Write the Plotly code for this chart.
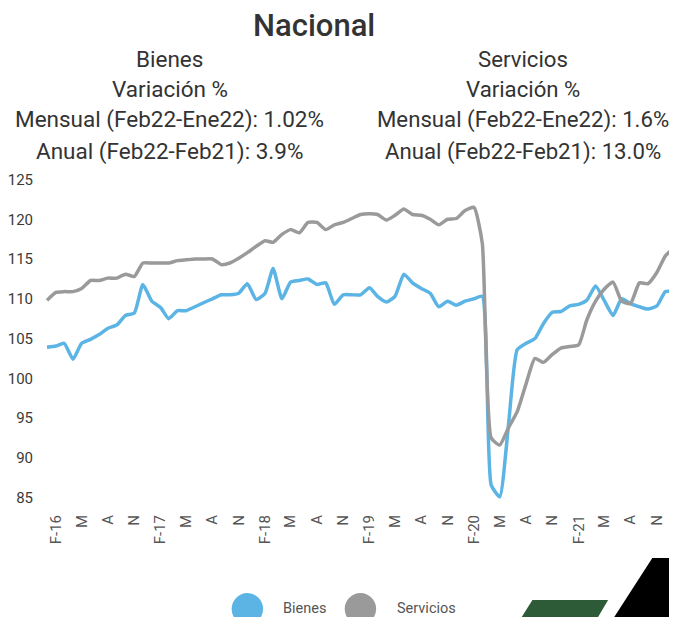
import plotly.graph_objects as go

# ---------------- data ----------------
months = ["2016-01", "2016-02", "2016-03", "2016-04", "2016-05", "2016-06", "2016-07", "2016-08",
          "2016-09", "2016-10", "2016-11", "2016-12",
          "2017-01", "2017-02", "2017-03", "2017-04", "2017-05", "2017-06", "2017-07", "2017-08",
          "2017-09", "2017-10", "2017-11", "2017-12",
          "2018-01", "2018-02", "2018-03", "2018-04", "2018-05", "2018-06", "2018-07", "2018-08",
          "2018-09", "2018-10", "2018-11", "2018-12",
          "2019-01", "2019-02", "2019-03", "2019-04", "2019-05", "2019-06", "2019-07", "2019-08",
          "2019-09", "2019-10", "2019-11", "2019-12",
          "2020-01", "2020-02", "2020-03", "2020-04", "2020-05", "2020-06", "2020-07", "2020-08",
          "2020-09", "2020-10", "2020-11", "2020-12",
          "2021-01", "2021-02", "2021-03", "2021-04", "2021-05", "2021-06", "2021-07", "2021-08",
          "2021-09", "2021-10", "2021-11", "2021-12",
          "2022-01"]

bienes = [103.9, 104.05, 104.4, 102.4, 104.4, 104.9, 105.5, 106.3, 106.7, 107.9, 108.2, 111.8,
          109.7, 108.9, 107.5, 108.5, 108.5, 109.0, 109.5, 110.0, 110.5, 110.5, 110.7, 111.9,
          109.9, 110.7, 113.8, 110.0, 112.1, 112.3, 112.5, 111.8, 112.0, 109.3, 110.5, 110.5,
          110.5, 111.4, 110.3, 109.6, 110.3, 113.1, 112.0, 111.3, 110.7, 109.0, 109.7, 109.2,
          109.7, 110.0, 110.3, 86.6, 85.1, 94.3, 103.6, 104.4, 105.0, 106.9, 108.3, 108.4,
          109.1, 109.3, 109.8, 111.6, 109.8, 107.9, 110.0, 109.4, 109.0, 108.7, 109.1, 110.9,
          110.9]

servicios = [109.8, 110.8, 110.9, 110.9, 111.3, 112.3, 112.3, 112.6, 112.6, 113.1, 112.8, 114.5,
             114.5, 114.5, 114.5, 114.8, 114.9, 115.0, 115.0, 115.0, 114.3, 114.5, 115.1, 115.8,
             116.6, 117.3, 117.1, 118.1, 118.7, 118.3, 119.6, 119.6, 118.7, 119.3, 119.6, 120.1,
             120.6, 120.7, 120.6, 119.9, 120.5, 121.3, 120.6, 120.5, 120.0, 119.3, 120.0, 120.1,
             121.1, 121.5, 117.0, 92.5, 91.6, 93.8, 95.8, 99.3, 102.5, 102.0, 103.0, 103.8,
             104.0, 104.2, 107.3, 109.7, 111.2, 112.1, 109.7, 109.4, 112.0, 111.9, 113.3, 115.4,
             116.4]

tick_months = ["2016-02", "2016-05", "2016-08", "2016-11",
               "2017-02", "2017-05", "2017-08", "2017-11",
               "2018-02", "2018-05", "2018-08", "2018-11",
               "2019-02", "2019-05", "2019-08", "2019-11",
               "2020-02", "2020-05", "2020-08", "2020-11",
               "2021-02", "2021-05", "2021-08", "2021-11"]
tick_labels = ["F-16", "M", "A", "N", "F-17", "M", "A", "N", "F-18", "M", "A", "N",
               "F-19", "M", "A", "N", "F-20", "M", "A", "N", "F-21", "M", "A", "N"]

y_ticks = [85, 90, 95, 100, 105, 110, 115, 120, 125]

title_text = "Nacional"
bienes_lines = ["Bienes", "Variación %", "Mensual (Feb22-Ene22): 1.02%", "Anual (Feb22-Feb21): 3.9%"]
servicios_lines = ["Servicios", "Variación %", "Mensual (Feb22-Ene22): 1.6%", "Anual (Feb22-Feb21): 13.0%"]

# ---------------- layout geometry ----------------
# the figure does not start at the window's corner; compensate with offsets
OFF_X, OFF_Y = 13, 8
FIG_W, FIG_H = 677 - OFF_X, 617 - OFF_Y
PLOT_LEFT, PLOT_RIGHT, PLOT_TOP, PLOT_BOTTOM = 33, 677, 175, 505   # screen pixels
L = PLOT_LEFT - OFF_X
T = PLOT_TOP - OFF_Y
R = FIG_W - (PLOT_RIGHT - OFF_X)
B = FIG_H - (PLOT_BOTTOM - OFF_Y)
W = PLOT_RIGHT - PLOT_LEFT
H = PLOT_BOTTOM - PLOT_TOP


def px_x(x):
    return (x - PLOT_LEFT) / W


def px_y(y):
    return (PLOT_BOTTOM - y) / H


BLUE = "#5bb4e4"
GRAY = "#9a9a9a"
FONT = "Roboto"

fig = go.Figure()
fig.add_trace(go.Scatter(x=[m + "-01" for m in months], y=bienes, mode="lines", name="Bienes",
                         line=dict(color=BLUE, width=3.5, shape="spline", smoothing=0.5),
                         showlegend=False))
fig.add_trace(go.Scatter(x=[m + "-01" for m in months], y=servicios, mode="lines", name="Servicios",
                         line=dict(color=GRAY, width=3.5, shape="spline", smoothing=0.5),
                         showlegend=False))

annotations = [dict(text=title_text, x=px_x(313), y=px_y(25), xref="paper", yref="paper",
                    xanchor="center", yanchor="middle", showarrow=False,
                    font=dict(family=FONT, size=31, color="#333333", weight=500))]
line_y = [59, 89, 120, 151]
for txt, yy in zip(bienes_lines, line_y):
    annotations.append(dict(text=txt, x=px_x(166), y=px_y(yy), xref="paper", yref="paper",
                            xanchor="center", yanchor="middle", showarrow=False,
                            font=dict(family=FONT, size=22.5, color="#333333")))
for txt, yy in zip(servicios_lines, line_y):
    annotations.append(dict(text=txt, x=px_x(525), y=px_y(yy), xref="paper", yref="paper",
                            xanchor="center", yanchor="middle", showarrow=False,
                            font=dict(family=FONT, size=22.2, color="#333333")))
# legend labels
annotations.append(dict(text="Bienes", x=px_x(279), y=px_y(608), xref="paper", yref="paper",
                        xanchor="left", yanchor="middle", showarrow=False,
                        font=dict(family=FONT, size=14.5, color="#555555")))
annotations.append(dict(text="Servicios", x=px_x(395), y=px_y(608), xref="paper", yref="paper",
                        xanchor="left", yanchor="middle", showarrow=False,
                        font=dict(family=FONT, size=14.5, color="#555555")))

shapes = []
for cx, col in [(245, BLUE), (360, GRAY)]:
    shapes.append(dict(type="circle", xref="paper", yref="paper",
                       x0=px_x(cx - 16), x1=px_x(cx + 16), y0=px_y(609 + 16), y1=px_y(609 - 16),
                       fillcolor=col, line=dict(width=0)))


def poly(points):
    return "M " + " L ".join(f"{px_x(a):.5f},{px_y(b):.5f}" for a, b in points) + " Z"


shapes.append(dict(type="path", xref="paper", yref="paper",
                   path=poly([(535, 600), (612, 600), (597, 625), (519, 625)]),
                   fillcolor="#2d5b37", line=dict(width=0)))
shapes.append(dict(type="path", xref="paper", yref="paper",
                   path=poly([(657, 558), (690, 558), (690, 625), (613, 625)]),
                   fillcolor="#000000", line=dict(width=0)))

fig.update_layout(
    width=FIG_W, height=FIG_H,
    margin=dict(l=L, r=R, t=T, b=B, pad=0),
    paper_bgcolor="white", plot_bgcolor="white",
    annotations=annotations, shapes=shapes,
    xaxis=dict(type="date", range=["2015-12-04", "2021-12-24"],
               tickvals=[m + "-01" for m in tick_months], ticktext=tick_labels,
               tickangle=-90, showgrid=False, zeroline=False, showline=False, ticks="",
               ticklabelstandoff=6,
               tickfont=dict(family=FONT, size=15, color="#555555")),
    yaxis=dict(range=[84.06, 125.57], tickvals=y_ticks, showgrid=False, zeroline=False,
               showline=False, ticks="", ticklabelstandoff=5,
               tickfont=dict(family=FONT, size=15, color="#3a3a3a")),
)

fig.write_html("out.html")
